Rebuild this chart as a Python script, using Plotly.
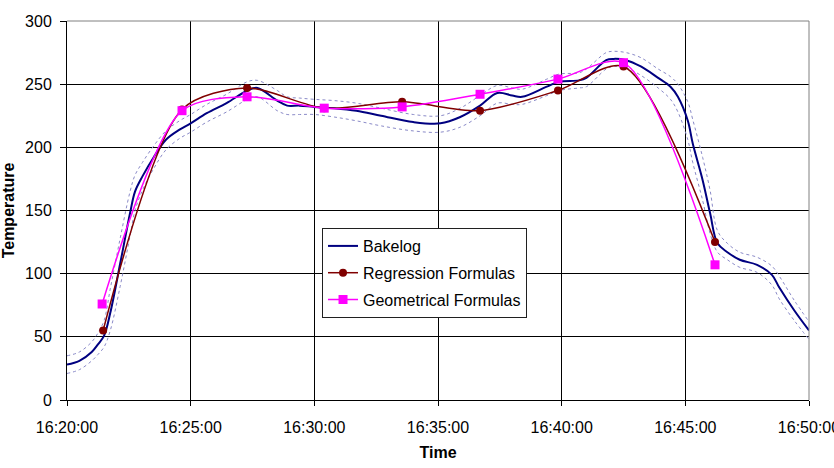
import plotly.graph_objects as go

# ---- data (minutes after 16:20:00) ----
bake_t = [0, 0.5, 1.0, 1.25, 1.5, 1.75, 2.15, 2.55, 2.75, 3.05, 3.5, 4.0, 4.55, 5.0, 5.65, 6.45,
          7.3, 7.7, 8.5, 8.9, 9.4, 10.0, 10.8, 11.7, 12.7, 14.0, 15.1, 15.9, 16.7, 17.4, 18.0,
          18.4, 19.4, 19.9, 20.7, 21.0, 21.8, 22.1, 22.6, 23.2, 23.9, 24.4, 24.7, 25.1, 25.3,
          25.7, 26.0, 26.3, 26.7, 27.2, 27.9, 28.5, 28.8, 29.4, 30.0]
bake_v = [28, 31, 38, 44, 51, 69, 108, 148, 165, 177, 192, 206, 214, 219, 227, 235,
          245, 247, 237, 233, 233, 232, 231, 229, 225, 220, 219, 224, 233, 243, 241,
          240, 248, 252, 253, 255, 269, 270, 269, 264, 255, 248, 240, 221, 203,
          174, 148, 124, 117, 111, 107, 99, 89, 71, 55]
bake_upper = [35, 38, 46, 53, 63, 88, 128, 165, 178, 188, 201, 213, 221, 226, 234, 242,
              252, 253, 245, 240, 239, 238, 237, 235, 231, 226, 225, 231, 241, 249, 247,
              246, 254, 258, 259, 262, 275, 276, 275, 271, 262, 256, 250, 236, 222,
              192, 166, 134, 124, 117, 113, 106, 98, 79, 62]
bake_lower = [21, 24, 31, 36, 42, 55, 90, 130, 150, 166, 183, 198, 207, 212, 220, 228,
              238, 240, 229, 226, 226, 226, 224, 221, 217, 213, 212, 216, 225, 235, 234,
              234, 241, 245, 247, 248, 262, 264, 263, 257, 247, 238, 228, 206, 188,
              158, 132, 117, 111, 105, 101, 91, 80, 63, 48]

reg_t = [1.46, 4.65, 7.28, 10.4, 13.55, 16.7, 19.85, 22.5, 26.2]
reg_v = [55, 230, 247, 231, 236, 229, 245, 264, 125]

geo_t = [1.42, 4.65, 7.28, 10.4, 13.55, 16.7, 19.85, 22.5, 26.2]
geo_v = [76, 229, 240, 231, 232, 242, 254, 267, 107]

x_tickvals = [0, 5, 10, 15, 20, 25, 30]
x_ticktext = ["16:20:00", "16:25:00", "16:30:00", "16:35:00", "16:40:00", "16:45:00", "16:50:00"]

FONT = "Liberation Sans, Arial, sans-serif"

fig = go.Figure()
band_style = dict(color="#8a8ac8", width=1, dash="dot")
fig.add_trace(go.Scatter(x=bake_t, y=bake_upper, mode="lines", line=dict(shape="spline", **band_style),
                         showlegend=False, hoverinfo="skip"))
fig.add_trace(go.Scatter(x=bake_t, y=bake_lower, mode="lines", line=dict(shape="spline", **band_style),
                         showlegend=False, hoverinfo="skip"))
fig.add_trace(go.Scatter(x=bake_t, y=bake_v, mode="lines", name="Bakelog", legendgroup="a",
                         line=dict(color="#000080", width=2, shape="spline")))
fig.add_trace(go.Scatter(x=reg_t, y=reg_v, mode="lines+markers", name="Regression Formulas", legendgroup="b",
                         line=dict(color="#800000", width=1.5, shape="spline", smoothing=0.8),
                         marker=dict(symbol="circle", size=8, color="#800000")))
fig.add_trace(go.Scatter(x=geo_t, y=geo_v, mode="lines+markers", name="Geometrical Formulas", legendgroup="c",
                         line=dict(color="#ff00ff", width=1.5, shape="spline", smoothing=0.8),
                         marker=dict(symbol="square", size=9, color="#ff00ff")))

fig.update_layout(
    width=834, height=468,
    margin=dict(l=67, r=25, t=21, b=68, autoexpand=False),
    paper_bgcolor="white", plot_bgcolor="white",
    font=dict(family=FONT, size=15, color="black"),
    showlegend=True,
    legend=dict(x=0.3437, y=0.4538, xanchor="left", yanchor="top",
                bgcolor="white", bordercolor="#202020", borderwidth=1,
                font=dict(family=FONT, size=16, color="black"),
                tracegroupgap=3),
    xaxis=dict(range=[0, 30], tickvals=x_tickvals, ticktext=x_ticktext,
               showgrid=True, gridcolor="#000000", gridwidth=1,
               showline=True, linecolor="black", linewidth=1,
               ticks="outside", ticklen=5, tickcolor="black",
               ticklabeloverflow="allow", ticklabelstandoff=8, automargin=False,
               zeroline=False, tickfont=dict(family=FONT, size=16),
               title=dict(text="<b>Time</b>", font=dict(family=FONT, size=16), standoff=11)),
    yaxis=dict(range=[0, 300], dtick=50,
               showgrid=True, gridcolor="#000000", gridwidth=1,
               showline=True, linecolor="black", linewidth=1,
               ticks="outside", ticklen=6, tickcolor="black",
               ticklabelstandoff=5, automargin=False,
               zeroline=False, tickfont=dict(family=FONT, size=16),
               title=dict(text="<b>Temperature</b>", font=dict(family=FONT, size=16), standoff=12)),
    shapes=[
        dict(type="line", xref="paper", yref="paper", x0=0, x1=1, y0=1, y1=1,
             line=dict(color="#808080", width=1), layer="above"),
        dict(type="line", xref="paper", yref="paper", x0=1, x1=1, y0=0, y1=1,
             line=dict(color="#808080", width=1), layer="above"),
    ],
)

fig.write_html("out.html")
